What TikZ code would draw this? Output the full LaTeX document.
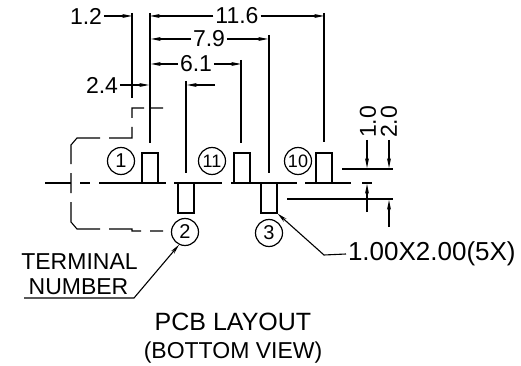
\documentclass[tikz,border=0pt]{standalone}
\usepackage{fontspec}
\setmainfont{Liberation Sans}
\usetikzlibrary{arrows.meta,positioning}

\tikzset{
    pad/.style={draw, rectangle, line width=1.2pt, inner sep=0pt, minimum width=16pt, minimum height=30pt},
    term/.style={draw, circle, line width=1.2pt, inner sep=0pt, minimum size=27pt, font=\fontsize{20}{20}\selectfont},
    dimtext/.style={inner sep=0pt, outer sep=2pt, font=\fontsize{23}{23}\selectfont},
    dimline/.style={line width=1.1pt},
    dimarrow/.style={line width=1.1pt, -{Stealth[length=10pt,width=4pt]}}
}

\begin{document}
\begin{tikzpicture}[x=1pt, y=-1pt]

    \useasboundingbox (0,0) rectangle (521,366);

    % pads
    \node[pad] (p1)  at (150,168) {};
    \node[pad] (p11) at (242,168) {};
    \node[pad] (p10) at (324,168) {};
    \node[pad] (p2)  at (186,198) {};
    \node[pad] (p3)  at (269,198) {};

    % terminal numbers
    \node[term] (n1)  at (121,161) {1};
    \node[term] (n11) at (212,161) {\fontsize{18}{18}\selectfont 11};
    \node[term] (n10) at (298,161) {\fontsize{18}{18}\selectfont 10};
    \node[term] (n2)  at (185,232) {2};
    \node[term] (n3)  at (269,233) {3};

    % dimension texts
    \node[dimtext] (d12)  at (86,16)  {1.2};
    \node[dimtext] (d116) at (237,16) {11.6};
    \node[dimtext] (d79)  at (209,39) {7.9};
    \node[dimtext] (d61)  at (196,64) {6.1};
    \node[dimtext] (d24)  at (102,85) {2.4};
    \node[dimtext, rotate=90] (d10) at (368,122) {1.0};
    \node[dimtext, rotate=90] (d20) at (389,122) {2.0};
    \node[dimtext, anchor=west] (size) at (346,254) {\fontsize{26}{26}\selectfont 1.00X2.00(5X)};
    \node[dimtext] (tn1) at (79.5,262) {TERMINAL};
    \node[dimtext] (tn2) at (78.5,287) {NUMBER};
    \node[dimtext] (title1) at (233,322) {\fontsize{25}{25}\selectfont PCB LAYOUT};
    \node[dimtext] (title2) at (233,353) {(BOTTOM VIEW)};

    % extension lines
    \coordinate (e12a) at (132,13);
    \coordinate (e12b) at (132,98);
    \coordinate (e0a)  at (150,13);
    \coordinate (e0b)  at (150,143);
    \coordinate (e116a) at (324,13);
    \coordinate (e116b) at (324,142);
    \coordinate (e79a) at (269,35);
    \coordinate (e79b) at (269,173);
    \coordinate (e61a) at (241,60);
    \coordinate (e61b) at (241,143);
    \coordinate (e24a) at (186,81);
    \coordinate (e24b) at (186,173);
    \coordinate (top1) at (342,169);
    \coordinate (top2) at (393,169);
    \coordinate (bot1) at (287,199);
    \coordinate (bot2) at (393,199);

    \path[dimline]
        (e12a) edge (e12b)
        (e0a) edge (e0b)
        (e116a) edge (e116b)
        (e79a) edge (e79b)
        (e61a) edge (e61b)
        (e24a) edge (e24b)
        (top1) edge (top2)
        (bot1) edge (bot2);

    % arrows
    \coordinate (a79) at (151,39);
    \coordinate (b79) at (268,39);
    \coordinate (a61) at (151,64);
    \coordinate (b61) at (241,64);
    \coordinate (a116) at (150,16);
    \coordinate (b116) at (324,16);
    \coordinate (a12) at (132,16);
    \coordinate (a24) at (149,85);
    \coordinate (s24) at (215,85);
    \coordinate (t24) at (187,85);
    \coordinate (s10) at (367,140);
    \coordinate (t10) at (367,168);
    \coordinate (s20) at (389,140);
    \coordinate (t20) at (389,168);
    \coordinate (u10) at (367,212);
    \coordinate (v10) at (367,184);
    \coordinate (u20) at (389,227);
    \coordinate (v20) at (389,200);

    \path[dimarrow]
        (d12.east) edge (a12)
        (d116.west) edge (a116)
        (d116.east) edge (b116)
        (d79.west) edge (a79)
        (d79.east) edge (b79)
        (d61.west) edge (a61)
        (d61.east) edge (b61)
        (d24.east) edge (a24)
        (s24) edge (t24)
        (s10) edge (t10)
        (s20) edge (t20)
        (u10) edge (v10)
        (u20) edge (v20);

    % leaders
    \coordinate (k3) at (324,255);
    \coordinate (k2) at (134,298);
    \coordinate (u2) at (24,298);
    \draw[dimarrow] (size.west) -- (k3) -- (p3.south east);
    \draw[dimarrow] (u2) -- (k2) -- (n2.245);

    % center line
    \draw[dimline] (45,183) -- (71,183) (80,183) -- (90,183) (99,183) -- (166,183)
        (174,183) -- (222,183) (231,183) -- (297,183) (305,183) -- (351,183) (362,183) -- (372,183);

    % outline
    \draw[dimline] (163,108) -- (150,108) (144,108) -- (132,108) -- (132,118)
        (132,127) -- (132,138) -- (109,138) (100,138) -- (77,138) -- (71,145) -- (71,164)
        (71,173) -- (71,193) (71,202) -- (71,222) -- (77,229) -- (100,229)
        (109,229) -- (132,229) -- (132,231) -- (141,231) (150,231) -- (163,231);

\end{tikzpicture}
\end{document}
